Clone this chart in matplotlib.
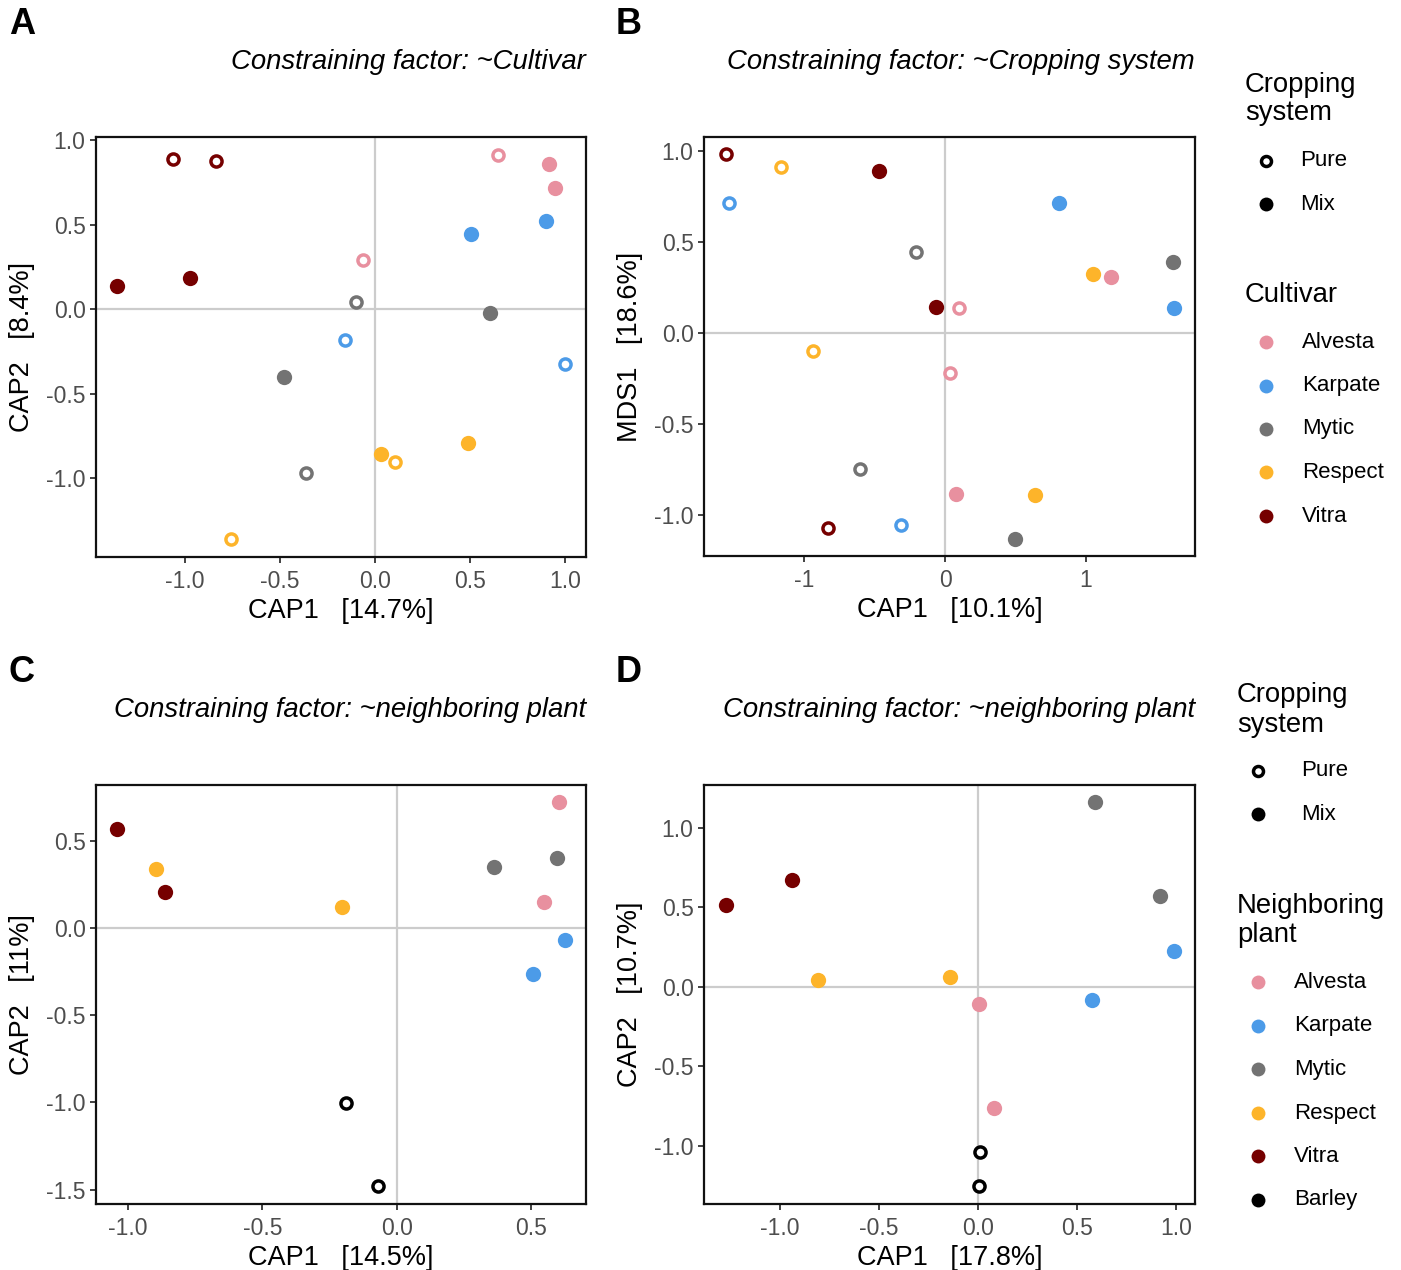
import matplotlib
matplotlib.use("Agg")
import matplotlib.pyplot as plt
from matplotlib.lines import Line2D
import numpy as np

plt.rcParams['font.family'] = ['Liberation Sans', 'DejaVu Sans']
plt.rcParams['axes.unicode_minus'] = False

# ---------------- data ----------------
cultivars = ["Alvesta", "Karpate", "Mytic", "Respect", "Vitra"]
colors = {"Alvesta": "#E8909F", "Karpate": "#4C9BE8", "Mytic": "#737373",
          "Respect": "#FDB42A", "Vitra": "#760000", "Barley": "#000000"}

# Panel A: constraining factor ~Cultivar
a_cultivar = ["Vitra", "Vitra", "Vitra", "Vitra",
              "Alvesta", "Alvesta", "Alvesta", "Alvesta",
              "Karpate", "Karpate", "Karpate", "Karpate",
              "Mytic", "Mytic", "Mytic", "Mytic",
              "Respect", "Respect", "Respect", "Respect"]
a_system = ["Pure", "Pure", "Mix", "Mix",
            "Pure", "Mix", "Mix", "Pure",
            "Mix", "Mix", "Pure", "Pure",
            "Pure", "Mix", "Mix", "Pure",
            "Mix", "Pure", "Mix", "Pure"]
a_x = [-1.063, -0.837, -1.358, -0.974,
       0.647, 0.916, 0.947, -0.063,
       0.505, 0.900, -0.158, 1.000,
       -0.100, 0.605, -0.479, -0.363,
       0.032, 0.105, 0.489, -0.758]
a_y = [0.888, 0.876, 0.136, 0.183,
       0.911, 0.858, 0.716, 0.290,
       0.444, 0.521, -0.183, -0.325,
       0.041, -0.024, -0.402, -0.970,
       -0.858, -0.905, -0.793, -1.361]

# Panel B: constraining factor ~Cropping system
b_cultivar = ["Vitra", "Vitra", "Vitra", "Vitra",
              "Respect", "Respect", "Respect", "Respect",
              "Karpate", "Karpate", "Karpate", "Karpate",
              "Mytic", "Mytic", "Mytic", "Mytic",
              "Alvesta", "Alvesta", "Alvesta", "Alvesta"]
b_system = ["Pure", "Pure", "Mix", "Mix",
            "Pure", "Pure", "Mix", "Mix",
            "Pure", "Pure", "Mix", "Mix",
            "Pure", "Pure", "Mix", "Mix",
            "Pure", "Pure", "Mix", "Mix"]
b_x = [-1.559, -0.833, -0.470, -0.064,
       -1.167, -0.940, 1.053, 0.641,
       -1.537, -0.313, 0.811, 1.630,
       -0.206, -0.605, 1.623, 0.498,
       0.100, 0.036, 1.181, 0.078]
b_y = [0.981, -1.068, 0.888, 0.142,
       0.910, -0.099, 0.323, -0.888,
       0.712, -1.052, 0.712, 0.137,
       0.444, -0.745, 0.389, -1.129,
       0.137, -0.219, 0.307, -0.882]

# Panel C: constraining factor ~neighboring plant
c_plant = ["Vitra", "Vitra", "Respect", "Respect", "Mytic", "Mytic",
           "Alvesta", "Alvesta", "Karpate", "Karpate", "Barley", "Barley"]
c_system = ["Mix"] * 10 + ["Pure", "Pure"]
c_x = [-1.041, -0.862, -0.896, -0.204, 0.361, 0.595,
       0.602, 0.546, 0.625, 0.506, -0.190, -0.071]
c_y = [0.567, 0.206, 0.338, 0.120, 0.350, 0.401,
       0.722, 0.149, -0.069, -0.264, -1.003, -1.479]

# Panel D: constraining factor ~neighboring plant
d_plant = ["Mytic", "Mytic", "Vitra", "Vitra", "Karpate", "Karpate",
           "Respect", "Respect", "Alvesta", "Alvesta", "Barley", "Barley"]
d_system = ["Mix"] * 10 + ["Pure", "Pure"]
d_x = [0.591, 0.919, -0.939, -1.273, 0.990, 0.576,
       -0.808, -0.141, 0.005, 0.081, 0.010, 0.005]
d_y = [1.164, 0.572, 0.673, 0.516, 0.226, -0.082,
       0.044, 0.063, -0.107, -0.761, -1.038, -1.252]

titles = ["Constraining factor: ~Cultivar",
          "Constraining factor: ~Cropping system",
          "Constraining factor: ~neighboring plant",
          "Constraining factor: ~neighboring plant"]
xlabels = ["CAP1   [14.7%]", "CAP1   [10.1%]", "CAP1   [14.5%]", "CAP1   [17.8%]"]
ylabels = ["CAP2   [8.4%]", "MDS1   [18.6%]", "CAP2   [11%]", "CAP2   [10.7%]"]
panel_letters = ["A", "B", "C", "D"]
xticks = [[-1.0, -0.5, 0.0, 0.5, 1.0], [-1, 0, 1],
          [-1.0, -0.5, 0.0, 0.5], [-1.0, -0.5, 0.0, 0.5, 1.0]]
yticks = [[-1.0, -0.5, 0.0, 0.5, 1.0], [-1.0, -0.5, 0.0, 0.5, 1.0],
          [-1.5, -1.0, -0.5, 0.0, 0.5], [-1.0, -0.5, 0.0, 0.5, 1.0]]
xlims = [(-1.468, 1.111), (-1.715, 1.779), (-1.119, 0.703), (-1.384, 1.096)]
ylims = [(-1.467, 1.018), (-1.222, 1.074), (-1.582, 0.819), (-1.365, 1.270)]

# ---------------- figure ----------------
W, H = 1401, 1270
fig = plt.figure(figsize=(W / 100, H / 100), dpi=100)

def fx(px):
    return px / W

def fy(py):
    return 1 - py / H

boxes = [(96, 586, 137, 557), (704, 1195, 137, 556),
         (96, 586, 785, 1204), (704, 1195, 785, 1204)]
axes = []
for (l, r, t, b) in boxes:
    axes.append(fig.add_axes([fx(l), fy(b), fx(r) - fx(l), fy(t) - fy(b)]))

datasets = [(a_x, a_y, a_cultivar, a_system), (b_x, b_y, b_cultivar, b_system),
            (c_x, c_y, c_plant, c_system), (d_x, d_y, d_plant, d_system)]

FILLED_MS = 11
OPEN_MS = 8.0
OPEN_MEW = 2.5

for i, ax in enumerate(axes):
    xs, ys, grp, sys_ = datasets[i]
    ax.axhline(0, color="#CCCCCC", lw=1.6, zorder=1)
    ax.axvline(0, color="#CCCCCC", lw=1.6, zorder=1)
    for x, y, g, s in zip(xs, ys, grp, sys_):
        if s == "Mix":
            ax.plot([x], [y], ls="none", marker="o", ms=FILLED_MS, mew=0,
                    mfc=colors[g], zorder=3)
        else:
            ax.plot([x], [y], ls="none", marker="o", ms=OPEN_MS, mew=OPEN_MEW,
                    mfc="white", mec=colors[g], zorder=3)
    ax.set_xlim(*xlims[i])
    ax.set_ylim(*ylims[i])
    ax.set_xticks(xticks[i])
    ax.set_yticks(yticks[i])
    if i == 1:
        ax.set_xticklabels([f"{v:d}" for v in xticks[i]])
    else:
        ax.set_xticklabels([f"{v:.1f}" for v in xticks[i]])
    ax.set_yticklabels([f"{v:.1f}" for v in yticks[i]])
    ax.tick_params(axis="both", direction="out", length=4.5, width=1.3,
                   color="#333333", labelsize=16.5, labelcolor="#4D4D4D")
    ax.tick_params(axis="x", pad=5)
    ax.tick_params(axis="y", pad=3)
    for sp in ax.spines.values():
        sp.set_linewidth(1.6)
        sp.set_color("#111111")
    ax.set_xlabel(xlabels[i], fontsize=19.5, va="center")
    ax.xaxis.set_label_coords(0.5, -0.128)
    ax.set_ylabel(ylabels[i], fontsize=19.5, va="center")
    ax.yaxis.set_label_coords(-0.151, 0.5)
    ax.text(1.0, 1 + 75 / 420, titles[i], transform=ax.transAxes,
            ha="right", va="center", fontsize=19.8, style="italic")

# panel letters
letter_pos = [(9, 25), (616, 25), (9, 673), (616, 673)]
for letter, (px, py) in zip(panel_letters, letter_pos):
    fig.text(fx(px), fy(py), letter, ha="left", va="center",
             fontsize=26, fontweight="bold")

# ---------------- legends ----------------
def legend_block(title, title_cy, title_x, entries, marker_x, text_x):
    fig.text(fx(title_x), fy(title_cy), title, ha="left", va="center",
             fontsize=19.8, linespacing=1.15)
    for label, cy, style, col in entries:
        if style == "open":
            fig.add_artist(Line2D([fx(marker_x)], [fy(cy)], transform=fig.transFigure,
                                  ls="none", marker="o", ms=7.2, mew=2.5,
                                  mfc="white", mec=col))
        else:
            fig.add_artist(Line2D([fx(marker_x)], [fy(cy)], transform=fig.transFigure,
                                  ls="none", marker="o", ms=10, mew=0, mfc=col))
        fig.text(fx(text_x), fy(cy), label, ha="left", va="center", fontsize=16)

sys_entries_top = [("Pure", 161, "open", "black"), ("Mix", 204, "filled", "black")]
legend_block("Cropping\nsystem", 99, 1245, sys_entries_top, 1266, 1300)

cult_rows = [342, 386, 429, 472, 516]
cult_entries = [(c, y, "filled", colors[c]) for c, y in zip(cultivars, cult_rows)]
legend_block("Cultivar", 295, 1245, cult_entries, 1266, 1302)

sys_entries_bot = [("Pure", 771, "open", "black"), ("Mix", 814, "filled", "black")]
legend_block("Cropping\nsystem", 710, 1237, sys_entries_bot, 1258, 1301)

plant_names = cultivars + ["Barley"]
plant_rows = [982, 1026, 1069, 1113, 1156, 1200]
plant_entries = [(p, y, "filled", colors[p]) for p, y in zip(plant_names, plant_rows)]
legend_block("Neighboring\nplant", 920.5, 1237, plant_entries, 1258, 1294)

fig.savefig("out.png", dpi=100)
